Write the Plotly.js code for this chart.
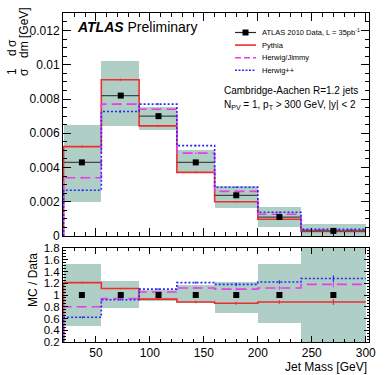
<!DOCTYPE html>
<html>
<head>
<meta charset="utf-8">
<script src="https://cdn.plot.ly/plotly-3.0.1.min.js"></script>
<style>
  body { margin: 0; background: #fff; }
  #tester { width: 390px; height: 375px; }
</style>
</head>
<body>
<div id="tester"></div>
<script>
// jet mass bins [GeV]
var edges = [20, 55, 90, 125, 160, 200, 240, 300];
var dataX = [37, 73, 108, 142.5, 180, 220, 270];

// normalised cross section, data + uncertainty band
var dataY  = [0.0043, 0.0082, 0.0070, 0.0043, 0.00238, 0.00111, 0.0003];
var dataErr = [0.00005, 0.00006, 0.00005, 0.00005, 0.00004, 0.00003, 0.00002];
var bandHi = [0.0065, 0.01023, 0.00755, 0.00505, 0.00294, 0.00171, 0.0007];
var bandLo = [0.0020, 0.0064, 0.0062, 0.00376, 0.00162, 0.00054, 0.0];

// MC predictions
var pythia   = [0.00522, 0.00912, 0.00643, 0.00372, 0.0020, 0.00098, 0.00027];
var jimmy    = [0.0034, 0.0077, 0.0074, 0.00484, 0.00261, 0.00127, 0.00035];
var herwigpp = [0.00267, 0.00727, 0.0077, 0.00528, 0.00285, 0.00139, 0.00039];
var mcErr    = [0.00006, 0.00007, 0.00006, 0.00005, 0.00004, 0.00003, 0.00003];

// MC / Data
var rPythia = [1.21, 1.11, 0.93, 0.88, 0.86, 0.88, 0.88];
var rJimmy  = [0.80, 0.94, 1.05, 1.12, 1.10, 1.12, 1.18];
var rHpp    = [0.62, 0.92, 1.10, 1.21, 1.18, 1.22, 1.28];
var rErr    = [0.015, 0.015, 0.015, 0.02, 0.025, 0.03, 0.05];
var rBandHi = [1.52, 1.24, 1.08, 1.17, 1.22, 1.52, 2.5];
var rBandLo = [0.475, 0.785, 0.89, 0.87, 0.70, 0.52, 0];

var topTicks = [0, 0.002, 0.004, 0.006, 0.008, 0.01, 0.012];
var topTickText = ['0', '0.002', '0.004', '0.006', '0.008', '0.01', '0.012'];
var ratioTicks = [0.2, 0.4, 0.6, 0.8, 1, 1.2, 1.4, 1.6, 1.8];
var ratioTickText = ['0.2', '0.4', '0.6', '0.8', '1', '1.2', '1.4', '1.6', '1.8'];

var legendNames = ['ATLAS 2010 Data, L = 35pb<sup>-1</sup>', 'Pythia', 'Herwig/Jimmy', 'Herwig++'];

var FONT = 'Liberation Sans, Arial, Helvetica, sans-serif';
var BAND = 'rgb(175,207,198)';
var RED = 'rgb(240,45,45)';
var MAG = 'rgb(232,60,232)';
var BLUE = 'rgb(40,40,245)';

var lowE = edges.slice(0, -1), highE = edges.slice(1);
var mids = lowE.map(function (l, i) { return (l + highE[i]) / 2; });
var widths = lowE.map(function (l, i) { return highE[i] - l; });

function band(lo, hi, xa, ya) {
  return {
    type: 'bar', x: mids, width: widths, base: lo,
    y: hi.map(function (h, i) { return h - lo[i]; }),
    marker: {color: BAND, line: {width: 0}},
    xaxis: xa, yaxis: ya, showlegend: false, hoverinfo: 'skip'
  };
}
function step(vals, color, dash, xa, ya) {
  return {
    type: 'scatter', mode: 'lines',
    x: [edges[0]].concat(edges),
    y: [0].concat(vals, [vals[vals.length - 1]]),
    line: {shape: 'hv', color: color, width: 1.6, dash: dash},
    xaxis: xa, yaxis: ya, showlegend: false, hoverinfo: 'skip'
  };
}
function errs(vals, e, color, xa, ya) {
  return {
    type: 'scatter', mode: 'markers', x: mids, y: vals,
    marker: {size: 1, color: 'rgba(0,0,0,0)'},
    error_y: {type: 'data', array: e, color: color, thickness: 1.2, width: 0},
    xaxis: xa, yaxis: ya, showlegend: false, hoverinfo: 'skip'
  };
}

var data = [
  band(bandLo, bandHi, 'x', 'y'),
  step(pythia, RED, 'solid', 'x', 'y'),
  step(jimmy, MAG, '10px,5px', 'x', 'y'),
  step(herwigpp, BLUE, '2px,2px', 'x', 'y'),
  errs(pythia, mcErr, RED, 'x', 'y'),
  errs(jimmy, mcErr, MAG, 'x', 'y'),
  errs(herwigpp, mcErr, BLUE, 'x', 'y'),
  {
    type: 'scatter', mode: 'markers', x: dataX, y: dataY,
    marker: {symbol: 'square', size: 6, color: 'black'},
    error_x: {type: 'data', symmetric: false,
      array: dataX.map(function (x, i) { return highE[i] - x; }),
      arrayminus: dataX.map(function (x, i) { return x - lowE[i]; }),
      color: 'rgb(70,70,70)', thickness: 1.2, width: 0},
    error_y: {type: 'data', array: dataErr, color: 'rgb(70,70,70)', thickness: 1.2, width: 0},
    xaxis: 'x', yaxis: 'y', showlegend: false, hoverinfo: 'skip'
  },
  band(rBandLo, rBandHi, 'x2', 'y2'),
  step(rPythia, RED, 'solid', 'x2', 'y2'),
  step(rJimmy, MAG, '10px,5px', 'x2', 'y2'),
  step(rHpp, BLUE, '2px,2px', 'x2', 'y2'),
  errs(rPythia, rErr, RED, 'x2', 'y2'),
  errs(rJimmy, rErr, MAG, 'x2', 'y2'),
  errs(rHpp, rErr, BLUE, 'x2', 'y2'),
  {
    type: 'scatter', mode: 'markers', x: dataX, y: dataY.map(function (v) { return v / v; }),
    marker: {symbol: 'square', size: 6, color: 'black'},
    xaxis: 'x2', yaxis: 'y2', showlegend: false, hoverinfo: 'skip'
  }
];

// pixel helpers for decorations
var L = 63, R = 21, T = 13, B = 33, W = 390 - L - R, H = 375 - T - B;
function px(p) { return (p - L) / W; }
function py(p) { return (375 - B - p) / H; }

var axBase = {
  showline: true, linecolor: 'black', linewidth: 1, mirror: 'allticks',
  ticks: 'inside', tickcolor: 'black', showgrid: false, zeroline: false,
  tickfont: {family: FONT, size: 12, color: 'black'}
};
function ax(extra) { return Object.assign({}, axBase, extra); }

var annotations = [
  {text: '<b><i>ATLAS</i></b> Preliminary', x: px(75), y: py(27), xanchor: 'left', yanchor: 'middle',
   font: {family: FONT, size: 14, color: 'black'}},
  {text: 'Cambridge-Aachen R=1.2 jets', x: px(222), y: py(90.5), xanchor: 'left', yanchor: 'middle',
   font: {family: FONT, size: 10, color: 'black'}},
  {text: 'N<sub>PV</sub> = 1, p<sub>T</sub> &gt; 300 GeV, |y| &lt; 2', x: px(222), y: py(104.5), xanchor: 'left', yanchor: 'middle',
   font: {family: FONT, size: 10, color: 'black'}},
  {text: 'd\u2009\u03c3', x: px(12), y: py(48), textangle: -90, xanchor: 'center', yanchor: 'middle',
   font: {family: FONT, size: 12, color: 'black'}},
  {text: 'dm [GeV]', x: px(24), y: py(33), textangle: -90, xanchor: 'center', yanchor: 'middle',
   font: {family: FONT, size: 12, color: 'black'}},
  {text: '1', x: px(12), y: py(72), textangle: -90, xanchor: 'center', yanchor: 'middle',
   font: {family: FONT, size: 12, color: 'black'}},
  {text: '\u03c3', x: px(24), y: py(72), textangle: -90, xanchor: 'center', yanchor: 'middle',
   font: {family: FONT, size: 12, color: 'black'}},
  {text: 'MC / Data', x: px(33), y: py(280), textangle: -90, xanchor: 'center', yanchor: 'middle',
   font: {family: FONT, size: 12, color: 'black'}},
  {text: 'Jet Mass [GeV]', x: 1, y: py(367), xanchor: 'right', yanchor: 'middle',
   font: {family: FONT, size: 12, color: 'black'}}
];
annotations.forEach(function (a) { a.xref = 'paper'; a.yref = 'paper'; a.showarrow = false; });

var shapes = [
  {type: 'line', x0: px(17.5), x1: px(17.5), y0: py(39), y1: py(57), line: {color: 'black', width: 1}},
  {type: 'line', x0: px(17.5), x1: px(17.5), y0: py(67), y1: py(77), line: {color: 'black', width: 1}}
];

// legend drawn by hand (rows 12.5 px apart)
var legStyles = [
  {color: 'rgb(40,40,40)', dash: 'solid'},
  {color: RED, dash: 'solid'},
  {color: MAG, dash: '6px,3px'},
  {color: BLUE, dash: '2px,1.5px'}
];
legendNames.forEach(function (name, i) {
  var yy = 32.5 + i * 12.6;
  shapes.push({type: 'line', xref: 'paper', yref: 'paper', x0: px(235), x1: px(256), y0: py(yy), y1: py(yy),
    line: {color: legStyles[i].color, width: i === 0 ? 1.2 : 1.6, dash: legStyles[i].dash}});
  annotations.push({text: name, xref: 'paper', yref: 'paper', x: px(260), y: py(yy), xanchor: 'left', yanchor: 'middle',
    showarrow: false, font: {family: FONT, size: 7.5, color: 'black'}});
});
shapes.push({type: 'rect', xref: 'paper', yref: 'paper', x0: px(242.5), x1: px(248.5), y0: py(35.5), y1: py(29.5),
  fillcolor: 'black', line: {width: 0}});

var layout = {
  width: 390, height: 375,
  margin: {l: L, r: R, t: T, b: B, pad: 0},
  paper_bgcolor: 'white', plot_bgcolor: 'white',
  showlegend: false, barmode: 'overlay', bargap: 0,
  font: {family: FONT, color: 'black'},
  xaxis: ax({range: [19.5, 303], anchor: 'y', showticklabels: false, dtick: 50, tick0: 0, ticklen: 8,
    minor: {ticks: 'inside', dtick: 10, ticklen: 4, tickcolor: 'black'}}),
  yaxis: ax({domain: [0.322, 1], range: [0, 0.01302], tickvals: topTicks, ticktext: topTickText, ticklen: 8,
    minor: {ticks: 'inside', dtick: 0.0005, tick0: 0, ticklen: 4, tickcolor: 'black'}}),
  xaxis2: ax({range: [19.5, 303], anchor: 'y2', matches: 'x', dtick: 50, tick0: 0, ticklen: 6,
    minor: {ticks: 'inside', dtick: 10, ticklen: 3, tickcolor: 'black'}}),
  yaxis2: ax({domain: [0, 0.2857], range: [0.2, 1.8], tickvals: ratioTicks, ticktext: ratioTickText, ticklen: 5,
    tickfont: {family: FONT, size: 11.5, color: 'black'},
    minor: {ticks: 'inside', dtick: 0.05, tick0: 0, ticklen: 2.5, tickcolor: 'black'}}),
  annotations: annotations,
  shapes: shapes
};

Plotly.newPlot('tester', data, layout, {staticPlot: true, displayModeBar: false});
</script>
</body>
</html>
